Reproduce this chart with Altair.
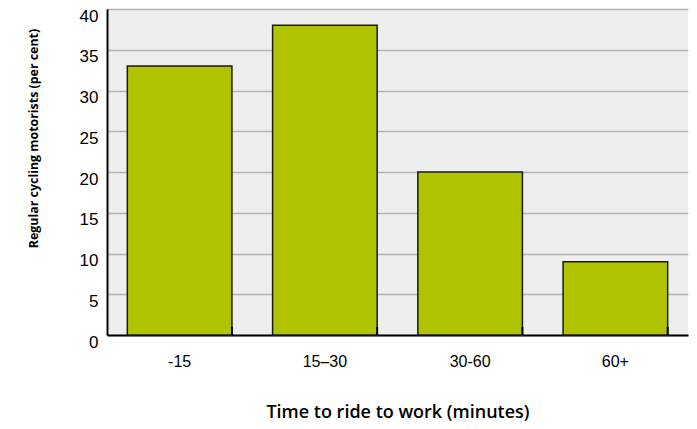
import altair as alt
import pandas as pd

categories = ["-15", "15–30", "30-60", "60+"]
values = [33, 38, 20, 9]

df = pd.DataFrame({"time": categories, "pct": values})

x_enc = alt.X(
    "time:N",
    sort=categories,
    scale=alt.Scale(paddingInner=0.28, paddingOuter=0.14),
    axis=alt.Axis(
        title="Time to ride to work (minutes)",
        titleFont="Open Sans",
        titleFontSize=18,
        titleFontWeight=600,
        titleColor="#000000",
        titlePadding=34,
        labelFont="Liberation Sans",
        labelFontSize=16,
        labelColor="#000000",
        labelPadding=18,
        labelAngle=0,
        ticks=False,
        domainColor="#000000",
        domainWidth=2,
        grid=False,
    ),
)

y_enc = alt.Y(
    "pct:Q",
    scale=alt.Scale(domain=[0, 40]),
    axis=alt.Axis(
        title="Regular cycling motorists (per cent)",
        titleFont="Open Sans",
        titleFontSize=12.4,
        titleFontWeight="bold",
        titleColor="#000000",
        titleX=-67,
        titleY=129,
        labelFont="Liberation Sans",
        labelFontSize=17,
        labelColor="#000000",
        labelPadding=9,
        labelOffset=7,
        values=[0, 5, 10, 15, 20, 25, 30, 35, 40],
        ticks=False,
        domainColor="#000000",
        domainWidth=2,
        grid=True,
        gridColor="#b4b4b4",
        gridWidth=1.5,
    ),
)

bars = alt.Chart(df).mark_bar(
    color="#b1c400", stroke="#1a1a1a", strokeWidth=1.5
).encode(x=x_enc, y=y_enc)

tick_df = pd.DataFrame({"time": categories, "lo": [0] * 4, "hi": [1] * 4})
ticks = alt.Chart(tick_df).mark_rule(color="#000000", strokeWidth=2).encode(
    x=alt.X("time:N", sort=categories, bandPosition=1),
    y="lo:Q",
    y2="hi:Q",
)

chart = (
    alt.layer(bars, ticks)
    .properties(
        width=581,
        height=326,
        autosize=alt.AutoSizeParams(type="none"),
        padding={"left": 99, "top": 1, "right": 1, "bottom": 100},
        background="#ffffff",
    )
    .configure_view(fill="#eeeeee", stroke=None)
)

chart.save("out.html", embed_options={"renderer": "svg", "actions": False})
